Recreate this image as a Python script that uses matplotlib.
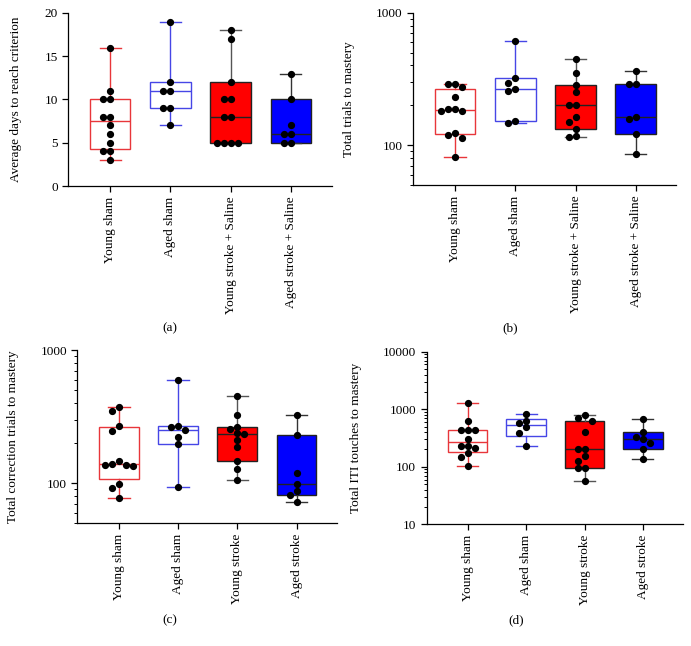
import matplotlib
matplotlib.use("Agg")
import matplotlib.pyplot as plt
from matplotlib import ticker
import numpy as np

plt.rcParams['font.family'] = ['Liberation Serif', 'DejaVu Serif']
plt.rcParams['font.size'] = 9.5

# ---- data ----
groups_ab = ["Young sham", "Aged sham", "Young stroke + Saline", "Aged stroke + Saline"]
groups_cd = ["Young sham", "Aged sham", "Young stroke", "Aged stroke"]

days_young_sham = [16, 11, 10, 10, 8, 8, 7, 6, 5, 4, 4, 3]
days_aged_sham = [19, 12, 11, 11, 9, 9, 7]
days_young_stroke = [18, 17, 12, 10, 10, 8, 8, 5, 5, 5, 5]
days_aged_stroke = [13, 10, 7, 6, 6, 5, 5]

trials_young_sham = [288, 288, 274, 231, 187, 187, 181, 181, 124, 120, 113, 81]
trials_aged_sham = [615, 322, 297, 264, 257, 152, 147]
trials_young_stroke = [450, 349, 283, 251, 200, 200, 163, 150, 133, 118, 115]
trials_aged_stroke = [361, 290, 290, 163, 157, 122, 86]

corr_young_sham = [376, 351, 269, 247, 147, 140, 138, 136, 134, 98, 92, 78]
corr_aged_sham = [597, 270, 266, 251, 224, 198, 94]
corr_young_stroke = [450, 327, 263, 255, 237, 234, 212, 188, 148, 128, 105]
corr_aged_stroke = [326, 230, 119, 98, 88, 82, 72]

iti_young_sham = [1274, 634, 442, 430, 430, 308, 229, 229, 212, 170, 150, 104]
iti_aged_sham = [840, 620, 578, 486, 385, 229]
iti_young_stroke = [796, 706, 634, 403, 200, 200, 151, 126, 96, 96, 57]
iti_aged_stroke = [677, 397, 325, 304, 262, 203, 138]

panels = [
    dict(data=[days_young_sham, days_aged_sham, days_young_stroke, days_aged_stroke],
         names=groups_ab, ylabel="Average days to reach criterion", log=False,
         ylim=(0, 20), caption="(a)", rect=[0.0988, 0.712, 0.381, 0.268], labx=-0.176),
    dict(data=[trials_young_sham, trials_aged_sham, trials_young_stroke, trials_aged_stroke],
         names=groups_ab, ylabel="Total trials to mastery", log=True,
         ylim=(50, 1000), caption="(b)", rect=[0.598, 0.7136, 0.381, 0.2667], labx=-0.221),
    dict(data=[corr_young_sham, corr_aged_sham, corr_young_stroke, corr_aged_stroke],
         names=groups_cd, ylabel="Total correction trials to mastery", log=True,
         ylim=(50, 1000), caption="(c)", rect=[0.112, 0.190, 0.3754, 0.268], labx=-0.227),
    dict(data=[iti_young_sham, iti_aged_sham, iti_young_stroke, iti_aged_stroke],
         names=groups_cd, ylabel="Total ITI touches to mastery", log=True,
         ylim=(10, 10000), caption="(d)", rect=[0.6175, 0.1884, 0.3705, 0.2672], labx=-0.254),
]

face = ["white", "white", "#ff0000", "#0000ff"]
edge = ["#e8363a", "#4646e6", "#222222", "#222222"]
whisk = ["#e8363a", "#4646e6", "#555555", "#333333"]
med_col = ["#e8363a", "#4646e6", "#222222", "#222222"]


def swarm(ax, x0, vals, dot_px=6.0):
    # simple beeswarm in pixel space
    placed = []
    xs = []
    px_per_x = ax.transData.transform((1, 0))[0] - ax.transData.transform((0, 0))[0]
    order = [0]
    for i in range(1, 8):
        order += [-i, i]
    for v in vals:
        yp = ax.transData.transform((x0, v))[1]
        for o in order:
            xp = o * (dot_px + 1.0)
            if all((xp - a) ** 2 + (yp - b) ** 2 >= dot_px ** 2 for a, b in placed):
                break
        placed.append((xp, yp))
        xs.append(x0 + xp / px_per_x)
    return xs


fig = plt.figure(figsize=(6.91, 6.46), dpi=100)

for p in panels:
    ax = fig.add_axes(p["rect"])
    pos = [1, 2, 3, 4]
    stats = []
    for vals in p["data"]:
        v = np.array(vals, dtype=float)
        q1, med, q3 = np.percentile(v, [25, 50, 75], method="weibull")
        stats.append(dict(med=med, q1=q1, q3=q3, whislo=v.min(), whishi=v.max(), fliers=[]))
    bp = ax.bxp(stats, positions=pos, widths=0.67, capwidths=0.36, patch_artist=True,
                showfliers=False)
    for i in range(4):
        bp["boxes"][i].set_facecolor(face[i])
        bp["boxes"][i].set_edgecolor(edge[i])
        bp["boxes"][i].set_linewidth(1.0)
        bp["medians"][i].set_color(med_col[i])
        bp["medians"][i].set_linewidth(1.0)
        for ln in bp["whiskers"][2 * i:2 * i + 2] + bp["caps"][2 * i:2 * i + 2]:
            ln.set_color(whisk[i])
            ln.set_linewidth(1.0)

    if p["log"]:
        ax.set_yscale("log")
    ax.set_ylim(*p["ylim"])
    ax.set_xlim(0.30, 4.68)

    for i, vals in enumerate(p["data"]):
        ys = sorted(vals, reverse=True)
        xs = swarm(ax, pos[i], ys)
        ax.plot(xs, ys, "o", color="black", markersize=4.2, zorder=5)

    if p["log"]:
        ax.yaxis.set_major_locator(ticker.LogLocator(base=10))
        ax.yaxis.set_minor_locator(ticker.LogLocator(base=10, subs=np.arange(2, 10)))
        ax.yaxis.set_major_formatter(ticker.FuncFormatter(lambda v, _: f"{v:g}"))
        ax.yaxis.set_minor_formatter(ticker.NullFormatter())
    else:
        ax.set_yticks([0, 5, 10, 15, 20])

    ax.set_xticks(pos)
    ax.set_xticklabels(p["names"], rotation=90)
    ax.spines["top"].set_visible(False)
    ax.spines["right"].set_visible(False)
    for s in ["left", "bottom"]:
        ax.spines[s].set_linewidth(0.9)
    ax.tick_params(axis="both", which="major", length=4, width=0.9, labelsize=9.5)
    ax.tick_params(axis="y", which="minor", length=2.5, width=0.7)
    ax.set_ylabel(p["ylabel"], fontsize=9.5)
    ax.yaxis.set_label_coords(p["labx"], 0.5)

fig.text(170 / 691, 1 - 328 / 646, "(a)", ha="center", va="center", fontsize=9.5)
fig.text(510 / 691, 1 - 328 / 646, "(b)", ha="center", va="center", fontsize=9.5)
fig.text(170 / 691, 1 - 620 / 646, "(c)", ha="center", va="center", fontsize=9.5)
fig.text(516 / 691, 1 - 620 / 646, "(d)", ha="center", va="center", fontsize=9.5)

fig.savefig("out.png", dpi=100)
